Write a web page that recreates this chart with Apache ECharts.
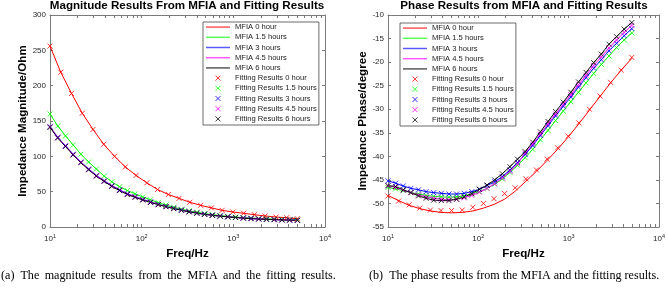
<!DOCTYPE html>
<html>
<head>
<meta charset="utf-8">
<script src="https://cdn.jsdelivr.net/npm/echarts@6/dist/echarts.min.js"></script>
<style>
  html, body { margin: 0; padding: 0; background: #fff; }
  #chart { width: 668px; height: 292px; }
</style>
</head>
<body>
<div id="chart"></div>
<script>
// sweep frequencies (Hz): the 0 hour run has fewer points than the others
const freq0h = [10, 13.1, 17.17, 22.49, 29.47, 38.61, 50.59, 66.29, 86.86, 113.8, 149.1, 195.4,
  255.9, 335.4, 439.4, 575.7, 754.4, 988.3, 1295, 1697, 2223, 2913, 3816, 5000];
const freqRuns = [10, 12.14, 14.75, 17.91, 21.75, 26.41, 32.07, 38.94, 47.28, 57.42, 69.72, 84.67,
  102.8, 124.9, 151.6, 184.1, 223.6, 271.5, 329.7, 400.5, 486.3, 590.5, 717.1, 870.8,
  1057, 1284, 1559, 1893, 2299, 2792, 3391, 4118, 5000];
const xTicks = [10, 20, 30, 40, 50, 60, 70, 80, 90, 100, 200, 300, 400, 500, 600, 700, 800, 900,
  1000, 2000, 3000, 4000, 5000, 6000, 7000, 8000, 9000, 10000];
const xLabels = [10, 100, 1000, 10000];

const runNames = ["0 hour", "1.5 hours", "3 hours", "4.5 hours", "6 hours"];
const runColors = ["#ff0000", "#00ff00", "#0000ff", "#ff00ff", "#000000"];

// impedance magnitude (Ohm)
const mag0h = [256, 219, 189, 161, 138, 117, 100, 85, 73, 62.5, 53, 46, 40.5, 35, 30.7, 27, 23.6,
  21.2, 19.4, 17.4, 15.6, 14.1, 13.2, 11.7];
const mag1_5h = [160, 143, 129, 116, 103, 92, 82, 72, 64, 57, 51.5, 47, 42.5, 38.5, 34.5, 31, 28,
  25.2, 22.8, 20.8, 19, 17.5, 16.2, 15.1, 14.1, 13.3, 12.6, 12, 11.5, 11.1, 10.7, 10.4, 10.1];
const mag3h = [142, 127, 115, 103, 92, 82, 73, 65.5, 58.5, 52.5, 47, 43, 39, 35.5, 32.2, 29.2, 26.5,
  24, 21.8, 19.8, 18.2, 16.8, 15.5, 14.5, 13.5, 12.7, 12, 11.4, 10.9, 10.5, 10.1, 9.8, 9.5];
const mag4_5h = [141.5, 126.5, 114.5, 102.5, 91.5, 81.5, 72.5, 65, 58, 52, 46.5, 42.5, 38.6, 35.1,
  31.9, 28.9, 26.2, 23.8, 21.6, 19.6, 18, 16.6, 15.4, 14.4, 13.4, 12.6, 11.9, 11.3, 10.8, 10.4,
  10, 9.7, 9.4];
const mag6h = [141, 126, 114, 102, 91, 81, 72, 64.5, 57.5, 51.5, 46, 42, 38.2, 34.8, 31.6, 28.7, 26,
  23.6, 21.4, 19.5, 17.9, 16.5, 15.3, 14.3, 13.4, 12.6, 11.9, 11.3, 10.8, 10.4, 10, 9.7, 9.4];

// impedance phase (degree), MFIA measurement of the 0 hour run differs from its fit
const phaseMfia0h = [-48.3, -49.4, -50.4, -51.1, -51.6, -51.9, -52, -51.9, -51.6, -51, -50.2,
  -49.1, -47.4, -45.3, -43.2, -40.9, -38.5, -35.9, -33.1, -30.2, -27.3, -24.4, -21.7, -19.2];
const phaseFit0h = [-48.4, -49.5, -50.3, -51, -51.4, -51.5, -51.5, -51.4, -50.8, -50, -49, -47.9,
  -46.7, -44.8, -42.9, -40.6, -38.2, -35.7, -32.9, -30, -27.2, -24.3, -21.7, -19];
const phase1_5h = [-46.6, -46.9, -47.3, -47.7, -48, -48.3, -48.5, -48.6, -48.7, -48.6, -48.4, -48,
  -47.5, -46.8, -45.9, -44.8, -43.4, -41.9, -40.3, -38.5, -36.5, -34.5, -32.4, -30.4, -28.4,
  -26.4, -24.4, -22.4, -20.5, -18.7, -16.9, -15.3, -13.8];
const phase3h = [-45.2, -45.7, -46.3, -46.8, -47.1, -47.5, -47.7, -47.85, -48, -48, -47.85, -47.5,
  -47, -46.2, -45.4, -44.3, -42.9, -41.3, -39.6, -37.7, -35.6, -33.5, -31.4, -29.4, -27.4,
  -25.3, -23.3, -21.3, -19.5, -17.6, -16, -14.4, -12.9];
const phase4_5h = [-46.3, -46.6, -47.2, -47.7, -48.2, -48.6, -48.9, -49.1, -49.2, -49.1, -48.8,
  -48.3, -47.6, -46.8, -45.8, -44.6, -43.2, -41.6, -39.3, -37.4, -35.3, -33.1, -31, -29, -26.9,
  -24.8, -22.8, -20.7, -18.9, -17, -15.3, -13.7, -12.2];
const phase6h = [-46.2, -46.4, -47.1, -47.7, -48.4, -48.9, -49.3, -49.4, -49.4, -49.1, -48.6,
  -47.9, -47, -46.1, -45, -43.7, -42.2, -40.6, -39, -37, -34.8, -32.6, -30.5, -28.5, -26.4,
  -24.2, -22.2, -20.1, -18.3, -16.2, -14.6, -13, -11.6];

const FONT = '"Liberation Sans", Arial, sans-serif';
const SERIF = '"Liberation Serif", "Times New Roman", serif';
const AXIS_COLOR = "#7a7a7a";
const TEXT_COLOR = "#262626";
const CROSS = "path://M0,0L10,10M10,0L0,10";
const LEGEND_LINE = "path://M0,0H24V1.5H0Z";

const pairs = (xs, ys) => xs.map((x, i) => [x, ys[i]]);

const magLines = [mag0h, mag1_5h, mag3h, mag4_5h, mag6h];
const magFits = [mag0h, mag1_5h, mag3h, mag4_5h, mag6h];
const phaseLines = [phaseMfia0h, phase1_5h, phase3h, phase4_5h, phase6h];
const phaseFits = [phaseFit0h, phase1_5h, phase3h, phase4_5h, phase6h];
const runFreq = (i) => (i === 0 ? freq0h : freqRuns);

function xAxisFor(grid, position, main) {
  return {
    type: "log",
    logBase: 10,
    gridIndex: grid,
    position: position,
    min: 10,
    max: 10000,
    name: main ? "Freq/Hz" : "",
    nameLocation: "middle",
    nameGap: 21,
    nameTextStyle: { fontFamily: FONT, fontWeight: "bold", fontSize: 11.6, color: "#000" },
    axisLine: { show: true, onZero: false, lineStyle: { color: AXIS_COLOR, width: 1 } },
    axisTick: {
      show: true,
      inside: true,
      length: 3,
      customValues: xTicks,
      lineStyle: { color: AXIS_COLOR, width: 1 },
    },
    axisLabel: {
      show: main,
      margin: 6,
      customValues: xLabels,
      formatter: (v) => "{b|10}{s|" + Math.round(Math.log10(v)) + "}",
      rich: {
        b: { fontFamily: FONT, fontSize: 8, color: TEXT_COLOR },
        s: { fontFamily: FONT, fontSize: 5.5, color: TEXT_COLOR, padding: [0, 0, 6, 0] },
      },
    },
    splitLine: { show: false },
  };
}

function yAxisFor(grid, position, main, min, max, interval, title, gap) {
  return {
    type: "value",
    gridIndex: grid,
    position: position,
    min: min,
    max: max,
    interval: interval,
    name: main ? title : "",
    nameLocation: "middle",
    nameGap: gap,
    nameTextStyle: { fontFamily: FONT, fontWeight: "bold", fontSize: 11.6, color: "#000" },
    axisLine: { show: true, onZero: false, lineStyle: { color: AXIS_COLOR, width: 1 } },
    axisTick: { show: true, inside: true, length: 3, lineStyle: { color: AXIS_COLOR, width: 1 } },
    axisLabel: { show: main, margin: 4, fontFamily: FONT, fontSize: 8, color: TEXT_COLOR },
    splitLine: { show: false },
  };
}

function seriesFor(axisIndex, lines, fits) {
  const out = [];
  runNames.forEach((run, i) => {
    out.push({
      name: "MFIA " + run,
      type: "line",
      xAxisIndex: axisIndex,
      yAxisIndex: axisIndex,
      data: pairs(runFreq(i), lines[i]),
      symbol: "none",
      lineStyle: { color: runColors[i], width: 1 },
      itemStyle: { color: runColors[i] },
      z: 2,
    });
  });
  runNames.forEach((run, i) => {
    out.push({
      name: "Fitting Results " + run,
      type: "scatter",
      xAxisIndex: axisIndex,
      yAxisIndex: axisIndex,
      data: pairs(runFreq(i), fits[i]),
      symbol: CROSS,
      symbolSize: 5,
      symbolKeepAspect: true,
      itemStyle: { color: runColors[i], borderColor: runColors[i], borderWidth: 1 },
      z: 3,
    });
  });
  return out;
}

// line entries get a plain thin bar, marker entries keep the series cross
const legendItems = runNames
  .map((r) => ({ name: "MFIA " + r, icon: LEGEND_LINE, itemStyle: { borderWidth: 0, opacity: 0.65 } }))
  .concat(runNames.map((r) => ({ name: "Fitting Results " + r })));

function legendAt(left, top) {
  return {
    orient: "vertical",
    left: left,
    top: top,
    data: legendItems,
    itemWidth: 24,
    itemHeight: 5,
    itemGap: 0,
    padding: [0, 2, 1, 3],
    backgroundColor: "#fff",
    borderColor: "#444",
    borderWidth: 0.8,
    borderRadius: 0,
    selectedMode: false,
    itemStyle: { borderWidth: 1 },
    textStyle: { fontFamily: FONT, fontSize: 7.6, color: "#222", lineHeight: 10.2 },
    z: 10,
  };
}

const chart = echarts.init(document.getElementById("chart"));
chart.setOption({
  animation: false,
  backgroundColor: "#fff",
  title: [
    {
      text: "Magnitude Results From MFIA and Fitting Results",
      left: 187,
      top: 0,
      textAlign: "center",
      padding: 0,
      textStyle: { fontFamily: FONT, fontWeight: "bold", fontSize: 11.6, color: "#000" },
    },
    {
      text: "Phase Results from MFIA and Fitting Results",
      left: 524,
      top: 0,
      textAlign: "center",
      padding: 0,
      textStyle: { fontFamily: FONT, fontWeight: "bold", fontSize: 11.6, color: "#000" },
    },
  ],
  grid: [
    { left: 50, top: 15, width: 275, height: 212 },
    { left: 388, top: 15, width: 271, height: 212 },
  ],
  xAxis: [
    xAxisFor(0, "bottom", true),
    xAxisFor(0, "top", false),
    xAxisFor(1, "bottom", true),
    xAxisFor(1, "top", false),
  ],
  yAxis: [
    yAxisFor(0, "left", true, 0, 300, 50, "Impedance Magnitude/Ohm", 20),
    yAxisFor(0, "right", false, 0, 300, 50, "", 0),
    yAxisFor(1, "left", true, -55, -10, 5, "Impedance Phase/degree", 18),
    yAxisFor(1, "right", false, -55, -10, 5, "", 0),
  ],
  legend: [legendAt(203, 22), legendAt(400, 23)],
  series: seriesFor(0, magLines, magFits).concat(seriesFor(2, phaseLines, phaseFits)),
  graphic: [
    {
      type: "text",
      left: 1,
      top: 270,
      style: {
        text: "(a)  The\u2009 magnitude\u2009 results\u2009 from\u2009 the\u2009 MFIA\u2009 and\u2009 the\u2009 fitting\u2009 results.",
        fontFamily: SERIF,
        fontSize: 12.1,
        fill: "#000",
      },
    },
    {
      type: "text",
      left: 369,
      top: 270,
      style: {
        text: "(b)  The phase results from the MFIA and the fitting results.",
        fontFamily: SERIF,
        fontSize: 12.1,
        fill: "#000",
      },
    },
  ],
});
</script>
</body>
</html>
